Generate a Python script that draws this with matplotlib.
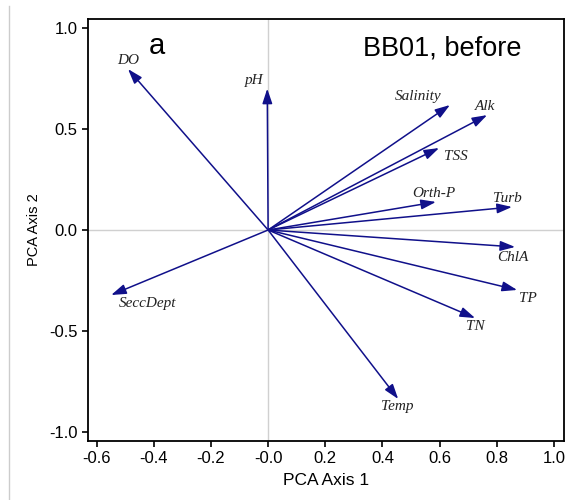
import matplotlib
matplotlib.use("Agg")
import matplotlib.pyplot as plt
from matplotlib.lines import Line2D

variables = ["DO", "pH", "Salinity", "Alk", "TSS", "Orth-P", "Turb", "ChlA", "TP", "TN", "Temp", "SeccDept"]
axis1 = [-0.49, -0.003, 0.636, 0.766, 0.598, 0.587, 0.853, 0.864, 0.871, 0.724, 0.455, -0.549]
axis2 = [0.797, 0.70, 0.619, 0.569, 0.406, 0.139, 0.114, -0.084, -0.297, -0.436, -0.837, -0.322]
label_x = [-0.49, -0.05, 0.525, 0.76, 0.657, 0.58, 0.836, 0.857, 0.91, 0.724, 0.45, -0.42]
label_y = [0.84, 0.74, 0.66, 0.61, 0.366, 0.18, 0.158, -0.134, -0.34, -0.48, -0.876, -0.366]
xticks = [-0.6, -0.4, -0.2, 0.0, 0.2, 0.4, 0.6, 0.8, 1.0]
yticks = [-1.0, -0.5, 0.0, 0.5, 1.0]
xtick_labels = ["-0.6", "-0.4", "-0.2", "-0.0", "0.2", "0.4", "0.6", "0.8", "1.0"]
ytick_labels = ["-1.0", "-0.5", "0.0", "0.5", "1.0"]

plt.rcParams['font.family'] = ['Liberation Sans', 'DejaVu Sans']

fig = plt.figure(figsize=(5.79, 5.0), dpi=100)
ax = fig.add_axes([88/579, 1-441/500, (564-88)/579, (441-19)/500])
ax.set_xlim(-0.63, 1.035)
ax.set_ylim(-1.045, 1.045)

ax.axhline(0, color='#d0d0d0', lw=1.0, zorder=0)
ax.axvline(0, color='#d0d0d0', lw=1.0, zorder=0)

col = '#10108a'
for x, y in zip(axis1, axis2):
    ax.annotate("", xy=(x, y), xytext=(0, 0),
                arrowprops=dict(arrowstyle="-|>,head_length=0.9,head_width=0.3",
                                color=col, lw=1.1, shrinkA=0, shrinkB=0))

for name, lx, ly in zip(variables, label_x, label_y):
    ax.text(lx, ly, name, family=['Liberation Serif', 'DejaVu Serif'], style='italic',
            fontsize=11, ha='center', va='center', color='#222222')

ax.text(-0.39, 0.91, "a", fontsize=21, ha='center', va='center')
ax.text(0.61, 0.90, "BB01, before", fontsize=19.5, ha='center', va='center')

ax.set_xticks(xticks)
ax.set_xticklabels(xtick_labels)
ax.set_yticks(yticks)
ax.set_yticklabels(ytick_labels)
ax.tick_params(direction='out', length=4, width=1.2, labelsize=12, colors='black')
for s in ax.spines.values():
    s.set_linewidth(1.3)
ax.set_xlabel("PCA Axis 1", fontsize=12.5, labelpad=5)
ax.set_ylabel("PCA Axis 2", fontsize=10.5, labelpad=6)

fig.add_artist(Line2D([9/579, 9/579], [0, 1-6/500], color='#cccccc', lw=1.0, transform=fig.transFigure))

fig.savefig("out.png", dpi=100)
